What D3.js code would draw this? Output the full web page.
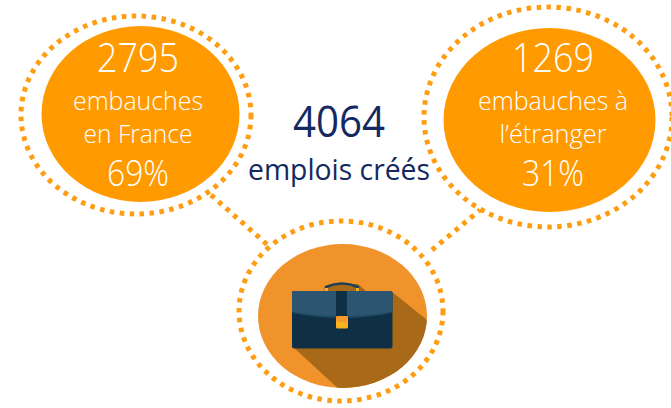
<!DOCTYPE html>
<html>
<head>
<meta charset="utf-8">
<script src="https://cdn.jsdelivr.net/npm/d3@7"></script>
<style>
html, body { margin: 0; background: #fff; }
svg { display: block; }
text { font-family: "Open Sans", sans-serif; text-anchor: middle; }
</style>
</head>
<body>
<svg width="671" height="408"></svg>
<script>
// values
var totals = [2795, 1269];
var shares = ["69%", "31%"];
var line1 = ["embauches", "embauches à"];
var line2 = ["en France", "l’étranger"];
var grandTotal = [4064];
var grandLabel = ["emplois créés"];

var orange = "#ff9a00", dots = "#ff9d12", navy = "#14295f";
var svg = d3.select("svg");

// connectors go under everything
var link = d3.line();
[[[211, 195], [270, 247]], [[432, 250], [480, 210]]].forEach(function(d) {
  svg.append("path").attr("d", link(d))
    .attr("fill", "none").attr("stroke", dots)
    .attr("stroke-width", 5).attr("stroke-dasharray", "4.5 5.5");
});

// one bubble per category
var bubbles = [
  {cx: 140.5, cy: 114, rx: 99, ry: 88, ox: 136, oy: 115, orx: 115, ory: 99, tx: 138, w: [82, 130, 109, 62]},
  {cx: 549.5, cy: 120, rx: 106, ry: 92, ox: 548, oy: 117, orx: 124, ory: 110, tx: 553, w: [82, 150, 107, 62]}
];

var g = svg.selectAll(".bubble").data(totals).enter().append("g").attr("class", "bubble");

g.append("ellipse")
  .attr("cx", function(d, i) { return bubbles[i].ox; })
  .attr("cy", function(d, i) { return bubbles[i].oy; })
  .attr("rx", function(d, i) { return bubbles[i].orx; })
  .attr("ry", function(d, i) { return bubbles[i].ory; })
  .attr("fill", "none").attr("stroke", dots)
  .attr("stroke-width", 5).attr("stroke-dasharray", "4.5 5.5");

g.append("ellipse")
  .attr("cx", function(d, i) { return bubbles[i].cx; })
  .attr("cy", function(d, i) { return bubbles[i].cy; })
  .attr("rx", function(d, i) { return bubbles[i].rx; })
  .attr("ry", function(d, i) { return bubbles[i].ry; })
  .attr("fill", orange);

// textLength squeezes Open Sans down to the narrower widths of the original face
function label(row, baseline, size, get) {
  g.append("text")
    .attr("x", function(d, i) { return bubbles[i].tx; })
    .attr("y", baseline)
    .attr("font-size", size)
    .attr("font-weight", 300)
    .attr("fill", "#fff")
    .attr("textLength", function(d, i) { return bubbles[i].w[row]; })
    .attr("lengthAdjust", "spacingAndGlyphs")
    .text(get);
}
label(0, 72, 40, function(d) { return d; });
label(1, 110, 26, function(d, i) { return line1[i]; });
label(2, 143, 26, function(d, i) { return line2[i]; });
label(3, 186, 36, function(d, i) { return shares[i]; });

// middle text
svg.append("text").data(grandTotal).attr("x", 339).attr("y", 137)
  .attr("font-size", 44).attr("font-weight", 400).attr("fill", navy)
  .attr("textLength", 92).attr("lengthAdjust", "spacingAndGlyphs")
  .text(function(d) { return d; });
svg.append("text").data(grandLabel).attr("x", 339).attr("y", 180)
  .attr("font-size", 29).attr("font-weight", 400).attr("fill", navy)
  .attr("textLength", 182).attr("lengthAdjust", "spacingAndGlyphs")
  .text(function(d) { return d; });

// briefcase badge
svg.append("ellipse").attr("cx", 341).attr("cy", 311).attr("rx", 102).attr("ry", 90)
  .attr("fill", "none").attr("stroke", dots)
  .attr("stroke-width", 5).attr("stroke-dasharray", "4.5 5.5");
svg.append("clipPath").attr("id", "badge").append("ellipse")
  .attr("cx", 342.5).attr("cy", 316).attr("rx", 84.5).attr("ry", 72);
var badge = svg.append("g").attr("clip-path", "url(#badge)");
badge.append("rect").attr("x", 250).attr("y", 240).attr("width", 190).attr("height", 150).attr("fill", "#f0932a");
badge.append("path").attr("d", "M292,346 L342,392 L432,392 L432,324 L391,291 L366,291 L358,284 L330,284 Z").attr("fill", "#a86a18");

var bag = svg.append("g");
bag.append("path").attr("d", "M326,291 V287 Q342,280 358,287 V291")
  .attr("fill", "none").attr("stroke", "#1c3f58").attr("stroke-width", 2.5);
bag.append("rect").attr("x", 325).attr("y", 288).attr("width", 3).attr("height", 4).attr("fill", "#f2b01e");
bag.append("rect").attr("x", 356).attr("y", 288).attr("width", 3).attr("height", 4).attr("fill", "#f2b01e");
bag.append("rect").attr("x", 292).attr("y", 291).attr("width", 100.5).attr("height", 57.5).attr("rx", 2).attr("fill", "#0f3044");
bag.append("path").attr("d", "M292,293 Q292,291 294,291 H390.5 Q392.5,291 392.5,293 V312 Q342,322 292,312 Z").attr("fill", "#2b5570");
bag.append("path").attr("d", "M294,312 Q342,320 390,312 L392,313 Q342,323 292,313 Z").attr("fill", "#1f4a63");
bag.append("rect").attr("x", 336).attr("y", 291).attr("width", 11).attr("height", 26).attr("fill", "#0f3044");
bag.append("rect").attr("x", 336).attr("y", 316).attr("width", 12).attr("height", 12.5).attr("rx", 1.5).attr("fill", "#fbb21f");
bag.append("rect").attr("x", 336).attr("y", 316).attr("width", 12).attr("height", 6).attr("rx", 1.5).attr("fill", "#f79a2b");
</script>
</body>
</html>
